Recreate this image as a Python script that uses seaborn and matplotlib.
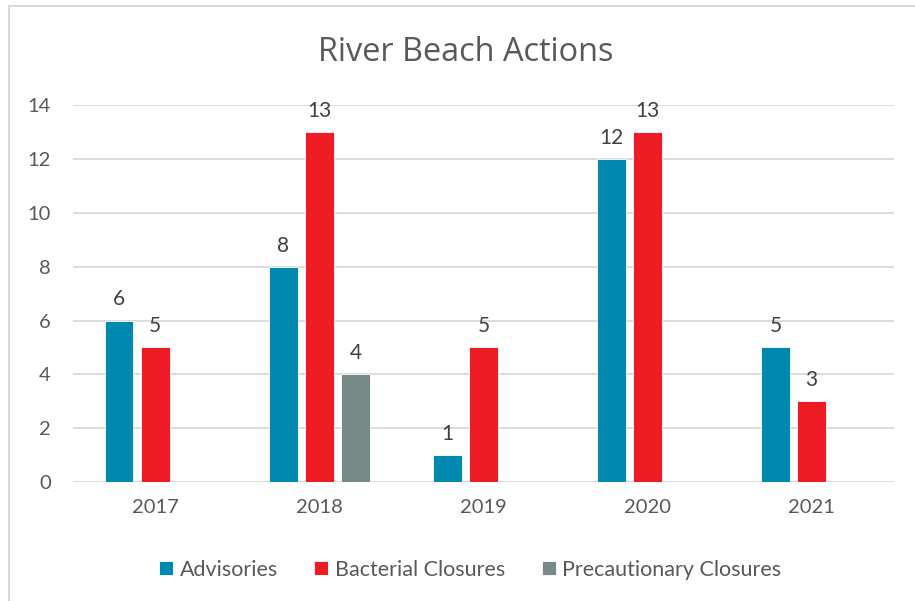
import numpy as np
import pandas as pd
import matplotlib.pyplot as plt
import seaborn as sns
from matplotlib.lines import Line2D

# data
years = ['2017', '2018', '2019', '2020', '2021']
advisories = [6, 8, 1, 12, 5]
bacterial = [5, 13, 5, 13, 3]
precautionary = [np.nan, 4, np.nan, np.nan, np.nan]
series = ['Advisories', 'Bacterial Closures', 'Precautionary Closures']
colors = ['#0089B0', '#ED1C24', '#778A87']

df = pd.DataFrame({'year': years * 3,
                   'action': np.repeat(series, len(years)),
                   'count': advisories + bacterial + precautionary})
df = df.dropna()

sns.set_style('white')
plt.rcParams['font.family'] = ['Lato', 'DejaVu Sans']
txt = '#595959'

fig = plt.figure(figsize=(9.15, 6.01), dpi=100)
ax = fig.add_axes([0.0798, 0.198, 0.897, 0.627])

sns.barplot(data=df, x='year', y='count', hue='action', order=years,
            hue_order=series, palette=colors, width=0.66, gap=0.2,
            edgecolor='white', linewidth=0.6, saturation=1, ax=ax,
            zorder=3)

for c in ax.containers:
    ax.bar_label(c, fmt='%g', padding=8, fontsize=15, color='#404040')

ax.set_ylim(0, 14)
ax.set_yticks(range(0, 15, 2))
ax.yaxis.grid(True, color='#D9D9D9', lw=1.3, zorder=0)
ax.set_axisbelow(True)
sns.despine(ax=ax, left=True, bottom=True, right=True, top=True)
ax.tick_params(axis='y', length=0, pad=16, labelsize=14.5, labelcolor=txt)
ax.tick_params(axis='x', length=0, pad=12, labelsize=14.5, labelcolor=txt)
ax.set_xlabel('')
ax.set_ylabel('')

ax.set_title('River Beach Actions', fontsize=23.4, color=txt, pad=32,
             x=0.479, family=['Open Sans', 'DejaVu Sans'])

ax.legend(loc='upper center', bbox_to_anchor=(0.484, -0.155), ncol=3,
          frameon=False, fontsize=15.5, labelcolor=txt, handlelength=0.65,
          handleheight=0.65, handletextpad=0.3, columnspacing=1.7)

# light chart border visible on the left and top
fig.add_artist(Line2D([8.5 / 915, 8.5 / 915], [0, 1 - 6 / 601],
                      color='#D9D9D9', lw=1.5))
fig.add_artist(Line2D([8.5 / 915, 1], [1 - 6 / 601, 1 - 6 / 601],
                      color='#D9D9D9', lw=1.5))

fig.savefig('out.png', dpi=100)
